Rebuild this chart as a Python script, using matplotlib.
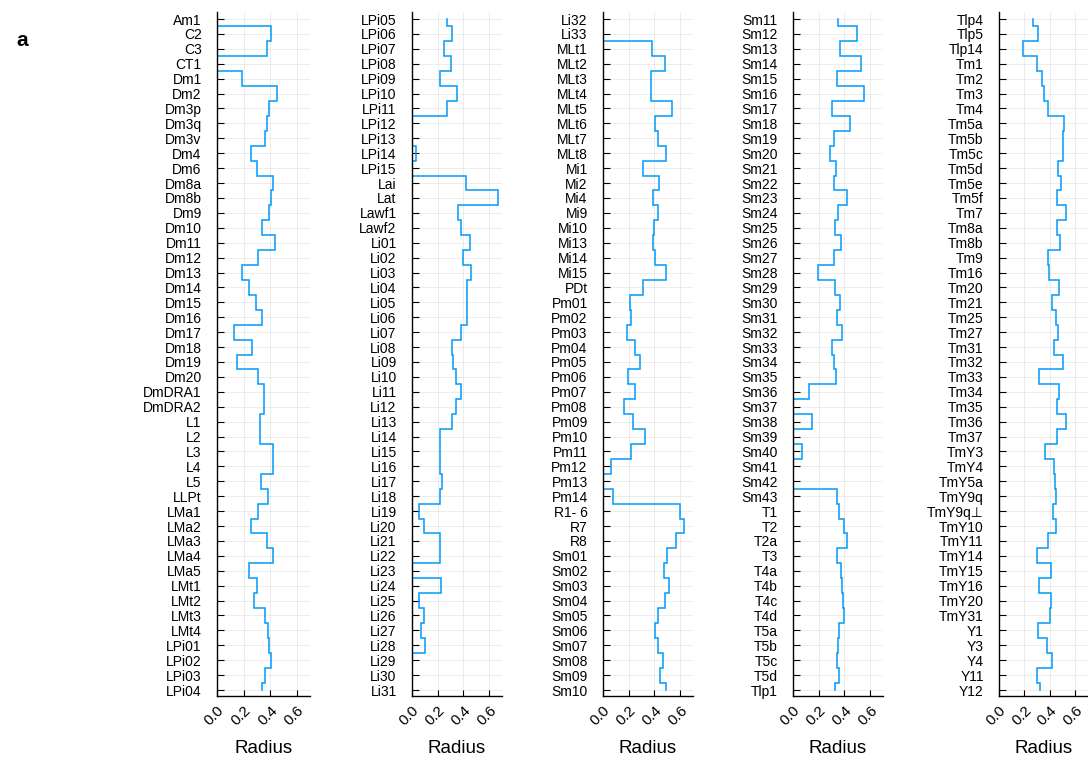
import numpy as np
import matplotlib
matplotlib.use("Agg")
import matplotlib.pyplot as plt

plt.rcParams['font.family'] = ['Liberation Sans', 'DejaVu Sans']

# Cell types and radius values, one list per panel
names1 = ["Am1", "C2", "C3", "CT1", "Dm1", "Dm2", "Dm3p", "Dm3q", "Dm3v", "Dm4",
          "Dm6", "Dm8a", "Dm8b", "Dm9", "Dm10", "Dm11", "Dm12", "Dm13", "Dm14", "Dm15",
          "Dm16", "Dm17", "Dm18", "Dm19", "Dm20", "DmDRA1", "DmDRA2", "L1", "L2", "L3",
          "L4", "L5", "LLPt", "LMa1", "LMa2", "LMa3", "LMa4", "LMa5", "LMt1", "LMt2",
          "LMt3", "LMt4", "LPi01", "LPi02", "LPi03", "LPi04"]
radius1 = [0.0, 0.41, 0.38, 0.0, 0.19, 0.45, 0.39, 0.375, 0.36, 0.255,
           0.30, 0.42, 0.41, 0.395, 0.34, 0.435, 0.305, 0.19, 0.24, 0.29,
           0.34, 0.13, 0.26, 0.15, 0.305, 0.355, 0.355, 0.325, 0.32, 0.42,
           0.42, 0.33, 0.385, 0.31, 0.255, 0.375, 0.42, 0.24, 0.30, 0.28,
           0.365, 0.385, 0.395, 0.41, 0.36, 0.34]

names2 = ["LPi05", "LPi06", "LPi07", "LPi08", "LPi09", "LPi10", "LPi11", "LPi12", "LPi13", "LPi14",
          "LPi15", "Lai", "Lat", "Lawf1", "Lawf2", "Li01", "Li02", "Li03", "Li04", "Li05",
          "Li06", "Li07", "Li08", "Li09", "Li10", "Li11", "Li12", "Li13", "Li14", "Li15",
          "Li16", "Li17", "Li18", "Li19", "Li20", "Li21", "Li22", "Li23", "Li24", "Li25",
          "Li26", "Li27", "Li28", "Li29", "Li30", "Li31"]
radius2 = [0.275, 0.31, 0.245, 0.30, 0.215, 0.35, 0.27, 0.0, 0.0, 0.03,
           0.0, 0.42, 0.67, 0.355, 0.38, 0.45, 0.40, 0.46, 0.425, 0.425,
           0.425, 0.38, 0.31, 0.32, 0.345, 0.38, 0.345, 0.31, 0.22, 0.215,
           0.22, 0.23, 0.22, 0.055, 0.095, 0.22, 0.22, 0.0, 0.225, 0.057,
           0.095, 0.07, 0.10, 0.0, 0.0, 0.0]

names3 = ["Li32", "Li33", "MLt1", "MLt2", "MLt3", "MLt4", "MLt5", "MLt6", "MLt7", "MLt8",
          "Mi1", "Mi2", "Mi4", "Mi9", "Mi10", "Mi13", "Mi14", "Mi15", "PDt", "Pm01",
          "Pm02", "Pm03", "Pm04", "Pm05", "Pm06", "Pm07", "Pm08", "Pm09", "Pm10", "Pm11",
          "Pm12", "Pm13", "Pm14", "R1- 6", "R7", "R8", "Sm01", "Sm02", "Sm03", "Sm04",
          "Sm05", "Sm06", "Sm07", "Sm08", "Sm09", "Sm10"]
radius3 = [0.0, 0.0, 0.38, 0.485, 0.37, 0.37, 0.535, 0.405, 0.43, 0.49,
           0.31, 0.435, 0.39, 0.425, 0.40, 0.39, 0.405, 0.49, 0.31, 0.21,
           0.215, 0.19, 0.25, 0.285, 0.195, 0.245, 0.165, 0.23, 0.325, 0.22,
           0.06, 0.0, 0.08, 0.60, 0.63, 0.57, 0.495, 0.475, 0.51, 0.48,
           0.425, 0.405, 0.43, 0.465, 0.445, 0.49]

names4 = ["Sm11", "Sm12", "Sm13", "Sm14", "Sm15", "Sm16", "Sm17", "Sm18", "Sm19", "Sm20",
          "Sm21", "Sm22", "Sm23", "Sm24", "Sm25", "Sm26", "Sm27", "Sm28", "Sm29", "Sm30",
          "Sm31", "Sm32", "Sm33", "Sm34", "Sm35", "Sm36", "Sm37", "Sm38", "Sm39", "Sm40",
          "Sm41", "Sm42", "Sm43", "T1", "T2", "T2a", "T3", "T4a", "T4b", "T4c",
          "T4d", "T5a", "T5b", "T5c", "T5d", "Tlp1"]
radius4 = [0.35, 0.50, 0.365, 0.53, 0.34, 0.55, 0.305, 0.445, 0.315, 0.29,
           0.335, 0.315, 0.42, 0.35, 0.325, 0.37, 0.32, 0.195, 0.325, 0.365,
           0.345, 0.38, 0.305, 0.32, 0.335, 0.125, 0.0, 0.145, 0.0, 0.07,
           0.0, 0.0, 0.34, 0.36, 0.40, 0.42, 0.345, 0.37, 0.38, 0.385,
           0.395, 0.355, 0.35, 0.34, 0.36, 0.33]

names5 = ["Tlp4", "Tlp5", "Tlp14", "Tm1", "Tm2", "Tm3", "Tm4", "Tm5a", "Tm5b", "Tm5c",
          "Tm5d", "Tm5e", "Tm5f", "Tm7", "Tm8a", "Tm8b", "Tm9", "Tm16", "Tm20", "Tm21",
          "Tm25", "Tm27", "Tm31", "Tm32", "Tm33", "Tm34", "Tm35", "Tm36", "Tm37", "TmY3",
          "TmY4", "TmY5a", "TmY9q", "TmY9q\u22a5", "TmY10", "TmY11", "TmY14", "TmY15", "TmY16", "TmY20",
          "TmY31", "Y1", "Y3", "Y4", "Y11", "Y12"]
radius5 = [0.265, 0.31, 0.185, 0.30, 0.34, 0.35, 0.385, 0.51, 0.50, 0.505,
           0.465, 0.49, 0.46, 0.53, 0.46, 0.48, 0.385, 0.395, 0.47, 0.415,
           0.445, 0.465, 0.43, 0.50, 0.315, 0.47, 0.455, 0.525, 0.455, 0.36,
           0.435, 0.44, 0.445, 0.425, 0.45, 0.385, 0.30, 0.41, 0.315, 0.41,
           0.40, 0.31, 0.375, 0.415, 0.30, 0.32]

panels = [(names1, radius1), (names2, radius2), (names3, radius3),
          (names4, radius4), (names5, radius5)]

W, H = 1088, 760
fig = plt.figure(figsize=(W / 100, H / 100), dpi=100)

# axes placement in pixels (left, width)
lefts = [217, 412, 603, 793, 999]
widths = [93, 90, 90, 90, 89]
top_px, bot_px = 12, 696

line_color = "#009AFA"

for (names, vals), left, width in zip(panels, lefts, widths):
    ax = fig.add_axes([left / W, (H - bot_px) / H, width / W, (bot_px - top_px) / H])
    n = len(names)
    pos = np.arange(n)
    v = np.asarray(vals)
    # vertical step-mid: change value half way between categories
    edges = pos[:-1] + 0.5
    ys = np.concatenate([[pos[0]], np.repeat(edges, 2), [pos[-1]]])
    xs = np.repeat(v, 2)
    ax.plot(xs, ys, color=line_color, lw=1.1, solid_joinstyle="miter")

    ax.set_xlim(0, 0.7)
    ax.set_ylim(n - 0.6, -0.47)
    ax.set_yticks(pos)
    ax.set_yticklabels(names, fontsize=10)
    ax.set_xticks([0.0, 0.2, 0.4, 0.6])
    ax.set_xticklabels(["0.0", "0.2", "0.4", "0.6"], fontsize=11,
                       rotation=45, ha="right", va="top", rotation_mode="anchor")
    ax.tick_params(axis="y", direction="in", length=5, width=0.8, pad=11)
    ax.tick_params(axis="x", direction="in", length=4, width=0.8, pad=5)
    ax.grid(True, color="black", alpha=0.1, lw=0.5)
    ax.set_axisbelow(True)
    for s in ["top", "right"]:
        ax.spines[s].set_visible(False)
    for s in ["left", "bottom"]:
        ax.spines[s].set_linewidth(1.0)
    ax.set_xlabel("Radius", fontsize=13.5, labelpad=9)

fig.text(16 / W, 1 - 40 / H, "a", fontsize=15, fontweight="bold", va="center", ha="left")

fig.savefig("out.png", dpi=100)
